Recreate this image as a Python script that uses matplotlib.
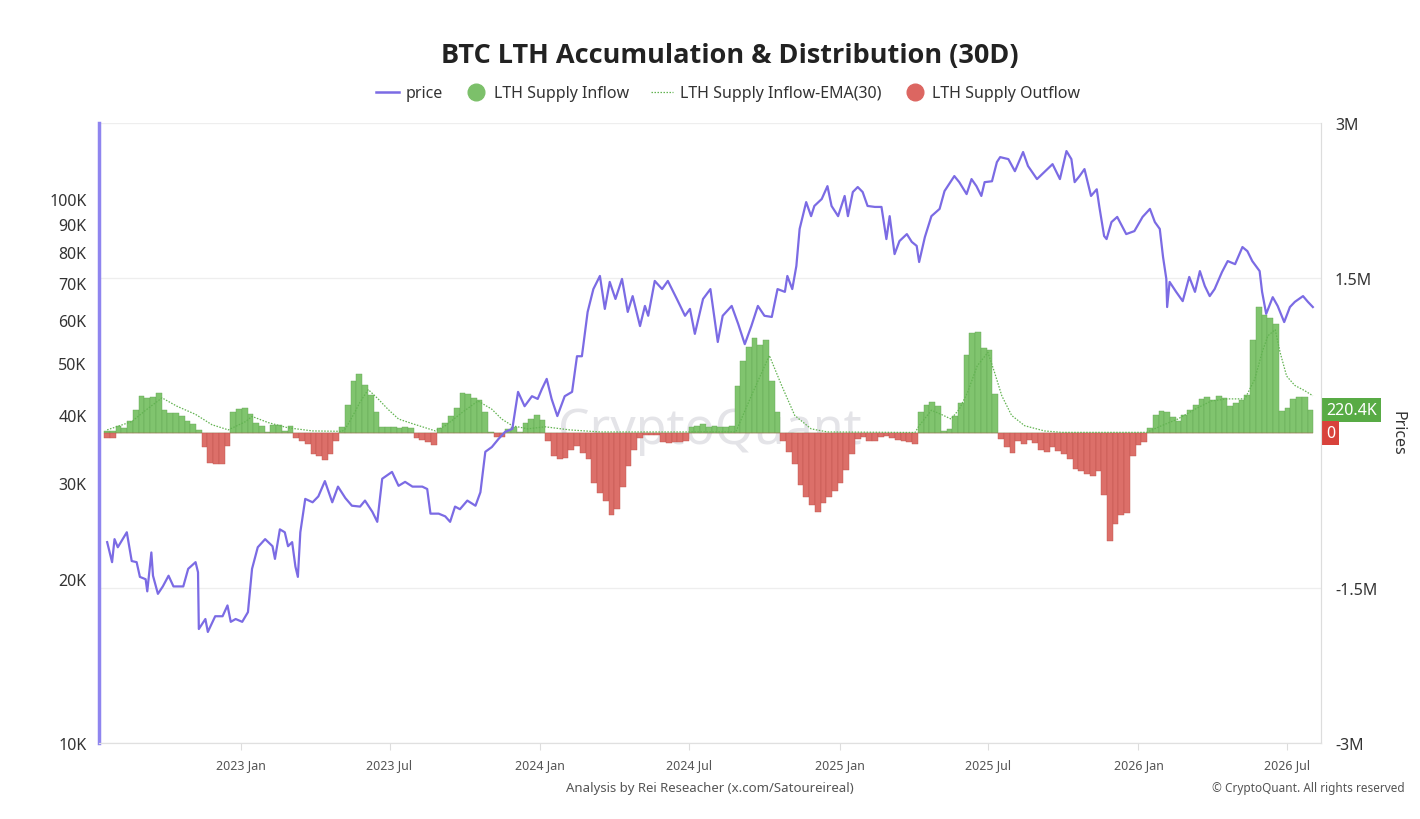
import matplotlib
matplotlib.use("Agg")
import matplotlib.pyplot as plt
import matplotlib.dates as mdates
from matplotlib.lines import Line2D
from matplotlib.ticker import FixedLocator, NullLocator
import pandas as pd

plt.rcParams["font.family"] = ["Noto Sans", "DejaVu Sans"]

# BTC price (thousand USD)
price_dates = [
    "2022-07-21", "2022-07-27", "2022-07-30", "2022-08-03", "2022-08-14", "2022-08-20", "2022-08-26", "2022-08-30", "2022-09-06", "2022-09-08",
    "2022-09-13", "2022-09-15", "2022-09-21", "2022-09-27", "2022-10-04", "2022-10-10", "2022-10-18", "2022-10-22", "2022-10-28", "2022-11-06",
    "2022-11-09", "2022-11-10", "2022-11-18", "2022-11-21", "2022-11-30", "2022-12-09", "2022-12-15", "2022-12-19", "2022-12-25", "2023-01-02",
    "2023-01-09", "2023-01-14", "2023-01-21", "2023-01-30", "2023-02-08", "2023-02-11", "2023-02-17", "2023-02-23", "2023-02-27", "2023-03-04",
    "2023-03-08", "2023-03-11", "2023-03-14", "2023-03-20", "2023-03-29", "2023-04-05", "2023-04-13", "2023-04-22", "2023-04-29", "2023-05-08",
    "2023-05-16", "2023-05-26", "2023-06-01", "2023-06-10", "2023-06-16", "2023-06-22", "2023-07-04", "2023-07-12", "2023-07-20", "2023-07-29",
    "2023-08-10", "2023-08-16", "2023-08-20", "2023-08-30", "2023-09-07", "2023-09-13", "2023-09-19", "2023-09-25", "2023-10-04", "2023-10-14",
    "2023-10-20", "2023-10-26", "2023-11-03", "2023-11-11", "2023-11-19", "2023-11-28", "2023-12-05", "2023-12-13", "2023-12-22", "2023-12-29",
    "2024-01-03", "2024-01-09", "2024-01-15", "2024-01-22", "2024-01-31", "2024-02-09", "2024-02-15", "2024-02-21", "2024-02-28", "2024-03-06",
    "2024-03-14", "2024-03-20", "2024-03-26", "2024-04-02", "2024-04-10", "2024-04-17", "2024-04-23", "2024-05-02", "2024-05-08", "2024-05-12",
    "2024-05-20", "2024-05-29", "2024-06-05", "2024-06-16", "2024-06-26", "2024-07-02", "2024-07-08", "2024-07-18", "2024-07-27", "2024-08-05",
    "2024-08-11", "2024-08-22", "2024-08-30", "2024-09-07", "2024-09-15", "2024-09-23", "2024-10-01", "2024-10-10", "2024-10-17", "2024-10-26",
    "2024-10-29", "2024-11-04", "2024-11-09", "2024-11-13", "2024-11-21", "2024-11-27", "2024-12-01", "2024-12-10", "2024-12-17", "2024-12-22",
    "2024-12-30", "2025-01-07", "2025-01-11", "2025-01-17", "2025-01-23", "2025-01-29", "2025-02-04", "2025-02-13", "2025-02-21", "2025-02-27",
    "2025-03-03", "2025-03-09", "2025-03-15", "2025-03-24", "2025-03-30", "2025-04-05", "2025-04-08", "2025-04-15", "2025-04-23", "2025-05-03",
    "2025-05-09", "2025-05-21", "2025-05-27", "2025-06-05", "2025-06-11", "2025-06-17", "2025-06-23", "2025-06-27", "2025-07-06", "2025-07-12",
    "2025-07-16", "2025-07-26", "2025-08-03", "2025-08-13", "2025-08-19", "2025-08-30", "2025-09-08", "2025-09-18", "2025-09-27", "2025-10-05",
    "2025-10-11", "2025-10-15", "2025-10-21", "2025-10-27", "2025-11-04", "2025-11-11", "2025-11-14", "2025-11-20", "2025-11-23", "2025-11-29",
    "2025-12-06", "2025-12-17", "2025-12-27", "2026-01-06", "2026-01-15", "2026-01-21", "2026-01-27", "2026-01-31", "2026-02-04", "2026-02-05",
    "2026-02-08", "2026-02-16", "2026-02-24", "2026-03-04", "2026-03-11", "2026-03-17", "2026-03-23", "2026-03-29", "2026-04-04", "2026-04-13",
    "2026-04-20", "2026-04-29", "2026-05-08", "2026-05-14", "2026-05-20", "2026-05-29", "2026-06-01", "2026-06-06", "2026-06-14", "2026-06-20",
    "2026-06-28", "2026-07-05", "2026-07-11", "2026-07-21", "2026-07-27", "2026-08-02",
]
price = [
    23.4, 21.5, 23.7, 22.9, 24.4, 21.6, 21.5, 20.2, 20.0, 19.0,
    22.4, 20.3, 18.8, 19.4, 20.3, 19.4, 19.4, 19.4, 20.9, 21.5,
    20.6, 16.2, 16.9, 16.0, 17.1, 17.1, 17.9, 16.7, 16.9, 16.7,
    17.4, 20.9, 22.9, 23.7, 23.0, 21.8, 24.7, 24.4, 23.0, 23.4,
    21.1, 20.2, 24.4, 28.1, 27.7, 28.4, 30.3, 27.7, 29.6, 28.2,
    27.3, 27.2, 27.9, 26.6, 25.5, 30.6, 31.5, 29.7, 30.2, 29.6,
    29.6, 29.3, 26.4, 26.4, 26.1, 25.5, 27.2, 26.9, 27.9, 27.3,
    28.9, 34.3, 35.0, 36.2, 37.3, 37.8, 44.2, 41.6, 43.4, 42.9,
    44.7, 46.7, 42.9, 39.9, 43.4, 44.2, 51.4, 51.4, 62.0, 68.3,
    72.2, 62.8, 70.4, 65.5, 71.3, 62.0, 66.3, 58.4, 63.6, 61.0,
    70.7, 68.3, 70.7, 65.5, 61.0, 62.8, 56.5, 65.5, 68.3, 54.6,
    61.0, 63.6, 58.9, 54.1, 58.4, 63.6, 61.0, 60.7, 68.3, 67.5,
    72.2, 68.3, 75.3, 88.1, 98.7, 93.0, 97.1, 100.0, 105.6, 97.1,
    93.0, 101.3, 93.0, 103.0, 105.2, 103.0, 97.1, 96.7, 96.7, 84.4,
    93.0, 79.2, 83.7, 86.2, 83.4, 82.0, 76.6, 85.1, 93.0, 95.9,
    103.4, 110.2, 107.4, 102.1, 108.8, 105.6, 101.3, 107.4, 107.8, 116.9,
    119.4, 118.4, 112.5, 122.0, 115.0, 108.8, 112.1, 115.9, 108.8, 122.5,
    118.4, 107.4, 110.2, 113.5, 101.3, 104.2, 97.1, 85.5, 84.4, 90.7,
    92.7, 86.2, 87.3, 92.7, 95.9, 90.7, 88.1, 78.2, 71.3, 63.3,
    70.4, 67.5, 64.9, 71.9, 67.5, 73.7, 69.2, 66.3, 68.3, 73.4,
    76.9, 75.9, 81.6, 80.2, 76.9, 73.7, 67.5, 61.5, 66.0, 63.6,
    59.4, 63.3, 64.7, 66.3, 64.7, 63.3,
]

# LTH supply flows (million BTC, 30D), weekly samples from flow_start
flow_start = "2022-07-21"
inflow = [
    0.02, 0.02, 0.065, 0.05, 0.12, 0.22, 0.36, 0.34, 0.35, 0.39,
    0.22, 0.19, 0.19, 0.16, 0.12, 0.09, 0.03, 0, 0, 0,
    0, 0, 0.20, 0.23, 0.24, 0.18, 0.10, 0.065, 0.01, 0.075,
    0.075, 0.02, 0.065, 0, 0, 0, 0, 0, 0, 0,
    0, 0.06, 0.27, 0.50, 0.57, 0.46, 0.37, 0.20, 0.055, 0.055,
    0.055, 0.05, 0.055, 0.05, 0, 0, 0, 0, 0.05, 0.10,
    0.16, 0.24, 0.39, 0.38, 0.34, 0.32, 0.20, 0.01, 0, 0,
    0.04, 0.055, 0.01, 0.10, 0.14, 0.17, 0.13, 0, 0, 0,
    0, 0, 0, 0, 0, 0, 0, 0, 0, 0,
    0, 0, 0, 0, 0, 0, 0, 0, 0, 0,
    0, 0, 0.06, 0.07, 0.09, 0.06, 0.07, 0.06, 0.06, 0.07,
    0.45, 0.70, 0.83, 0.92, 0.85, 0.90, 0.50, 0.20, 0, 0,
    0, 0, 0, 0, 0, 0, 0, 0, 0, 0,
    0, 0, 0, 0, 0, 0, 0, 0, 0, 0,
    0, 0, 0.20, 0.27, 0.30, 0.26, 0.02, 0.04, 0.16, 0.29,
    0.75, 0.97, 0.98, 0.82, 0.80, 0.38, 0, 0, 0, 0,
    0, 0, 0, 0, 0, 0, 0, 0, 0, 0,
    0, 0, 0, 0, 0, 0, 0, 0, 0, 0,
    0, 0, 0.05, 0.17, 0.21, 0.20, 0.15, 0.12, 0.17, 0.22,
    0.27, 0.33, 0.345, 0.32, 0.36, 0.34, 0.26, 0.29, 0.32, 0.37,
    0.90, 1.22, 1.14, 1.11, 1.05, 0.21, 0.24, 0.33, 0.35, 0.35,
    0.2204,
]
outflow = [
    -0.05, -0.05, 0, 0, 0, 0, 0, 0, 0, 0,
    0, 0, 0, 0, 0, 0, 0, -0.14, -0.29, -0.30,
    -0.30, -0.13, 0, 0, 0, 0, 0, 0, 0, 0,
    0, 0, 0, -0.05, -0.08, -0.11, -0.20, -0.22, -0.26, -0.20,
    -0.08, 0, 0, 0, 0, 0, 0, 0, 0, 0,
    0, 0, 0, 0, -0.05, -0.07, -0.09, -0.12, 0, 0,
    0, 0, 0, 0, 0, 0, 0, 0, -0.04, -0.04,
    0, 0, 0, 0, 0, 0, 0, -0.08, -0.22, -0.25,
    -0.24, -0.16, -0.13, -0.19, -0.25, -0.48, -0.58, -0.66, -0.79, -0.74,
    -0.52, -0.32, -0.16, -0.05, -0.02, -0.02, -0.02, -0.09, -0.10, -0.09,
    -0.09, -0.08, 0, 0, 0, 0, 0, 0, 0, 0,
    0, 0, 0, 0, 0, 0, 0, 0, -0.08, -0.18,
    -0.30, -0.50, -0.62, -0.70, -0.76, -0.68, -0.62, -0.56, -0.48, -0.36,
    -0.20, -0.06, -0.04, -0.08, -0.08, -0.04, -0.03, -0.05, -0.07, -0.08,
    -0.09, -0.11, 0, 0, 0, 0, 0, 0, 0, 0,
    0, 0, 0, 0, 0, 0, -0.06, -0.14, -0.19, -0.08,
    -0.11, -0.07, -0.10, -0.16, -0.18, -0.14, -0.17, -0.20, -0.25, -0.35,
    -0.37, -0.40, -0.42, -0.37, -0.60, -1.05, -0.88, -0.79, -0.77, -0.22,
    -0.12, -0.09, 0, 0, 0, 0, 0, 0, 0, 0,
    0, 0, 0, 0, 0, 0, 0, 0, 0, 0,
    0, 0, 0, 0, 0, 0, 0, 0, 0, 0,
    0,
]

# LTH Supply Inflow EMA(30), million BTC
ema_dates = [
    "2022-07-21", "2022-08-20", "2022-09-06", "2022-09-26", "2022-10-14", "2022-11-06", "2022-11-26", "2022-12-16", "2023-01-06", "2023-01-14",
    "2023-02-03", "2023-02-27", "2023-03-29", "2023-05-04", "2023-05-08", "2023-05-16", "2023-05-26", "2023-06-05", "2023-06-17", "2023-06-29",
    "2023-07-12", "2023-07-29", "2023-08-26", "2023-09-07", "2023-09-28", "2023-10-17", "2023-11-03", "2023-11-15", "2023-11-28", "2023-12-17",
    "2024-01-07", "2024-02-06", "2024-03-14", "2024-08-27", "2024-09-15", "2024-10-07", "2024-10-22", "2024-11-07", "2024-11-27", "2024-12-17",
    "2025-04-03", "2025-04-08", "2025-04-23", "2025-05-05", "2025-05-17", "2025-05-27", "2025-06-06", "2025-06-18", "2025-07-01", "2025-07-09",
    "2025-07-18", "2025-07-30", "2025-08-15", "2025-09-08", "2025-09-29", "2026-01-11", "2026-01-29", "2026-02-18", "2026-03-11", "2026-03-31",
    "2026-04-20", "2026-05-11", "2026-05-23", "2026-06-01", "2026-06-08", "2026-06-17", "2026-06-23", "2026-07-01", "2026-07-11", "2026-07-23",
    "2026-08-02",
]
ema = [
    0.03, 0.11, 0.22, 0.34, 0.26, 0.18, 0.08, 0.03, 0.11, 0.16,
    0.10, 0.05, 0.02, 0.016, 0.04, 0.15, 0.30, 0.42, 0.33, 0.23,
    0.135, 0.09, 0.02, 0.07, 0.20, 0.31, 0.23, 0.135, 0.07, 0.04,
    0.06, 0.03, 0.01, 0.01, 0.36, 0.75, 0.46, 0.17, 0.04, 0.01,
    0.005, 0.07, 0.22, 0.18, 0.135, 0.23, 0.39, 0.65, 0.78, 0.59,
    0.36, 0.17, 0.07, 0.02, 0.006, 0.006, 0.07, 0.135, 0.23, 0.31,
    0.33, 0.33, 0.52, 0.78, 0.94, 1.0, 0.78, 0.55, 0.46, 0.41,
    0.36,
]

price_ticks = [10, 20, 30, 40, 50, 60, 70, 80, 90, 100]
flow_ticks = [-3, -1.5, 1.5, 3]
date_ticks = ["2023-01-01", "2023-07-01", "2024-01-01", "2024-07-01",
              "2025-01-01", "2025-07-01", "2026-01-01", "2026-07-01"]

PURPLE = "#7b6be4"
GREEN = "#80c46e"
GREEN_EDGE = "#63a553"
RED = "#dc6f69"
RED_EDGE = "#bd524c"

flow_dates = pd.date_range(flow_start, periods=len(inflow), freq="7D")
pdates = pd.to_datetime(price_dates)
edates = pd.to_datetime(ema_dates)

fig = plt.figure(figsize=(14.2, 8.2), dpi=100)
ax = fig.add_axes([0.0697, 0.0927, 0.8606, 0.7561])   # flows (right axis)
axp = ax.twinx()                                       # price (left axis, log)

ax.bar(flow_dates, inflow, width=7, color=GREEN, edgecolor=GREEN_EDGE, linewidth=0.3, zorder=2)
ax.bar(flow_dates, outflow, width=7, color=RED, edgecolor=RED_EDGE, linewidth=0.3, zorder=2)
ax.plot(edates, ema, linestyle=(0, (1.2, 1.2)), color="#62b351", lw=0.9, zorder=3)
ax.set_ylim(-3, 3)
ax.yaxis.tick_right()
ax.yaxis.set_major_locator(FixedLocator(flow_ticks))
ax.set_yticklabels([f"{v:g}M" for v in flow_ticks])
ax.tick_params(axis="y", length=0, pad=10, labelsize=11.5, labelcolor="#333333")
ax.grid(axis="y", color="#eeeeee", lw=0.9, zorder=0)
ax.text(0.5, 0.505, "CryptoQuant", transform=ax.transAxes, ha="center", va="center",
        fontsize=36, color="#e4e4e8", zorder=1)

axp.plot(pdates, price, color=PURPLE, lw=1.6, zorder=4)
axp.set_yscale("log")
axp.set_ylim(10, 137.96)
axp.yaxis.tick_left()
axp.yaxis.set_major_locator(FixedLocator(price_ticks))
axp.yaxis.set_minor_locator(NullLocator())
axp.set_yticklabels([f"{v}K" for v in price_ticks])
axp.tick_params(axis="y", length=0, pad=9, labelsize=11.5, labelcolor="#333333")

ax.set_xlim(pd.Timestamp("2022-07-11"), pd.Timestamp("2026-08-12"))
ax.xaxis.set_major_locator(FixedLocator(mdates.date2num(pd.to_datetime(date_ticks))))
ax.xaxis.set_major_formatter(mdates.DateFormatter("%Y %b"))
ax.tick_params(axis="x", length=5, color="#dddddd", labelsize=9, labelcolor="#555555", pad=6)

for a in (ax, axp):
    a.spines["top"].set_visible(False)
    a.spines["bottom"].set_color("#e0e0e0")
    a.spines["right"].set_color("#dddddd")
    a.spines["left"].set_visible(False)
axp.spines["left"].set_visible(True)
axp.spines["left"].set_color("#8f85ef")
axp.spines["left"].set_linewidth(2.5)

# last-value tags on the right axis
ytr = ax.get_yaxis_transform()
ax.text(1.004, inflow[-1], f"{inflow[-1] * 1000:.1f}K", transform=ytr, ha="left", va="center",
        fontsize=11.5, color="white", clip_on=False,
        bbox=dict(boxstyle="square,pad=0.25", facecolor="#58ab45", edgecolor="none"))
ax.text(1.004, outflow[-1], f"{outflow[-1]:g}", transform=ytr, ha="left", va="center",
        fontsize=11.5, color="white", clip_on=False,
        bbox=dict(boxstyle="square,pad=0.25", facecolor="#d8423b", edgecolor="none"))
fig.text(0.984, 0.471, "Prices", rotation=-90, ha="center", va="center", fontsize=11.5, color="#333333")

fig.text(0.514, 0.932, "BTC LTH Accumulation & Distribution (30D)", ha="center", va="center",
         fontsize=19.5, fontweight="bold", color="#222222", family=["Open Sans", "DejaVu Sans"])
handles = [
    Line2D([], [], color=PURPLE, lw=1.8),
    Line2D([], [], marker="o", ls="none", markersize=12, color="#7cc06a"),
    Line2D([], [], color="#62b351", lw=0.9, ls=(0, (1.2, 1.2))),
    Line2D([], [], marker="o", ls="none", markersize=12, color="#dc6661"),
]
labels = ["price", "LTH Supply Inflow", "LTH Supply Inflow-EMA(30)", "LTH Supply Outflow"]
fig.legend(handles, labels, loc="center", bbox_to_anchor=(0.513, 0.885), ncol=4, frameon=False,
           fontsize=11.5, handlelength=1.4, handletextpad=0.4, columnspacing=1.4, labelcolor="#333333")

fig.text(0.5, 0.039, "Analysis by Rei Reseacher (x.com/Satoureireal)", ha="center", va="center",
         fontsize=9.5, color="#555555")
fig.text(0.989, 0.039, "\u00a9 CryptoQuant. All rights reserved", ha="right", va="center",
         fontsize=8.5, color="#555555")

fig.savefig("out.png", dpi=100)
